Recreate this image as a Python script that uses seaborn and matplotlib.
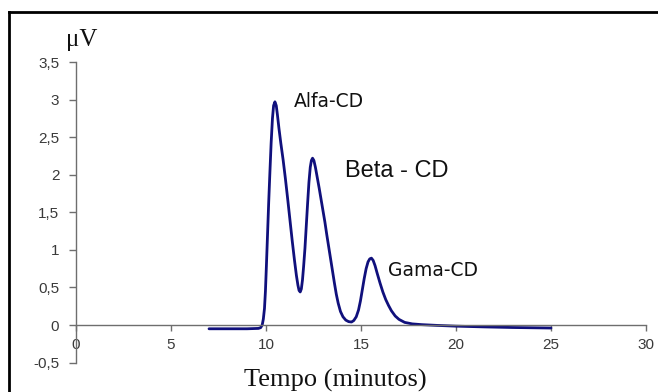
import numpy as np
import pandas as pd
import matplotlib
matplotlib.use("Agg")
import matplotlib.pyplot as plt
from matplotlib.lines import Line2D
import seaborn as sns

# ---- data ----
tempo = [7.0, 8.0, 9.0, 9.6, 9.72, 9.8, 9.86, 9.92, 9.97, 10.02, 10.08, 10.14, 10.2,
         10.27, 10.34, 10.4, 10.47, 10.54, 10.6, 10.68, 10.78, 10.9, 11.02, 11.14,
         11.26, 11.38, 11.5, 11.6, 11.68, 11.74, 11.8, 11.86, 11.92, 11.98, 12.05,
         12.12, 12.19, 12.26, 12.33, 12.39, 12.45, 12.52, 12.6, 12.7, 12.8, 12.9,
         13.0, 13.1, 13.2, 13.3, 13.4, 13.5, 13.6, 13.7, 13.8, 13.92, 14.05, 14.2,
         14.35, 14.5, 14.62, 14.75, 14.87, 14.97, 15.07, 15.17, 15.27, 15.37, 15.46,
         15.55, 15.64, 15.74, 15.85, 16.0, 16.15, 16.3, 16.45, 16.6, 16.8, 17.0,
         17.3, 17.7, 18.2, 19.0, 20.0, 21.5, 23.0, 25.0]
sinal = [-0.05, -0.05, -0.05, -0.045, -0.035, 0.0, 0.08, 0.22, 0.45, 0.78, 1.2, 1.62,
         2.0, 2.42, 2.75, 2.92, 2.97, 2.92, 2.8, 2.62, 2.42, 2.2, 1.95, 1.68,
         1.4, 1.12, 0.86, 0.66, 0.53, 0.46, 0.44, 0.48, 0.6, 0.78, 1.02,
         1.32, 1.62, 1.9, 2.1, 2.19, 2.22, 2.19, 2.1, 1.96, 1.82, 1.67,
         1.52, 1.37, 1.2, 1.04, 0.88, 0.72, 0.56, 0.41, 0.29, 0.18, 0.11, 0.065,
         0.045, 0.04, 0.06, 0.11, 0.2, 0.32, 0.47, 0.62, 0.75, 0.84, 0.88,
         0.89, 0.86, 0.79, 0.69, 0.56, 0.44, 0.34, 0.26, 0.19, 0.12, 0.075,
         0.035, 0.015, 0.005, -0.005, -0.015, -0.025, -0.033, -0.04]

xticks = [0, 5, 10, 15, 20, 25, 30]
xtick_labels = ["0", "5", "10", "15", "20", "25", "30"]
yticks = [-0.5, 0, 0.5, 1, 1.5, 2, 2.5, 3, 3.5]
ytick_labels = ["-0,5", "0", "0,5", "1", "1,5", "2", "2,5", "3", "3,5"]

peak_names = ["Alfa-CD", "Beta - CD", "Gama-CD"]
peak_label_x = [11.47, 14.16, 16.42]
peak_label_y = [2.97, 2.05, 0.73]

df = pd.DataFrame({"Tempo": tempo, "Sinal": sinal})

sns.set_theme(style="white")
plt.rcParams["font.family"] = ["Liberation Sans", "DejaVu Sans"]

fig = plt.figure(figsize=(6.58, 3.92), dpi=100)
ax = fig.add_axes([76 / 658, (392 - 362.6) / 392, 570 / 658, 300.6 / 392])

sns.lineplot(data=df, x="Tempo", y="Sinal", ax=ax, color="#10107c",
             linewidth=2.0, sort=False)

ax.set_xlim(0, 30)
ax.set_ylim(-0.5, 3.5)
ax.set_xticks(xticks)
ax.set_xticklabels(xtick_labels)
ax.set_yticks(yticks)
ax.set_yticklabels(ytick_labels)
ax.set_xlabel("")
ax.set_ylabel("")

for s in ["top", "right"]:
    ax.spines[s].set_visible(False)
ax.spines["bottom"].set_position(("data", 0))
for s in ["left", "bottom"]:
    ax.spines[s].set_color("#6e6e6e")
    ax.spines[s].set_linewidth(1.0)

ax.tick_params(axis="x", direction="out", length=4, width=1, color="#6e6e6e",
               pad=5, labelsize=11, labelcolor="#3a3a3a", bottom=True)
ax.tick_params(axis="y", direction="out", length=5, width=1, color="#6e6e6e",
               pad=7, labelsize=11, labelcolor="#3a3a3a", left=True)

for name, lx, ly, fs, fam in zip(peak_names, peak_label_x, peak_label_y,
                                 [13.5, 17, 13.5],
                                 [["DejaVu Sans"],
                                  ["Liberation Sans Narrow", "Liberation Sans"],
                                  ["DejaVu Sans"]]):
    ax.text(lx, ly, name, fontsize=fs, family=fam, ha="left", va="center",
            color="#111111")

fig.text(82 / 658, 1 - 40 / 392, "\u03bcV", family=["Liberation Serif", "DejaVu Serif"],
         fontsize=18, ha="center", va="center", color="#111111")
fig.text(335 / 658, 1 - 380 / 392, "Tempo (minutos)",
         family=["Liberation Serif", "DejaVu Serif"], fontsize=19,
         ha="center", va="center", color="#111111")

# outer frame (top and left edges visible)
top_y = 1 - 12.3 / 392
left_x = 9 / 658
fig.add_artist(Line2D([left_x, 1.0], [top_y, top_y], transform=fig.transFigure,
                      color="black", linewidth=2.0, solid_capstyle="projecting"))
fig.add_artist(Line2D([left_x, left_x], [0, top_y], transform=fig.transFigure,
                      color="black", linewidth=2.0, solid_capstyle="projecting"))

fig.savefig("out.png", dpi=100)
